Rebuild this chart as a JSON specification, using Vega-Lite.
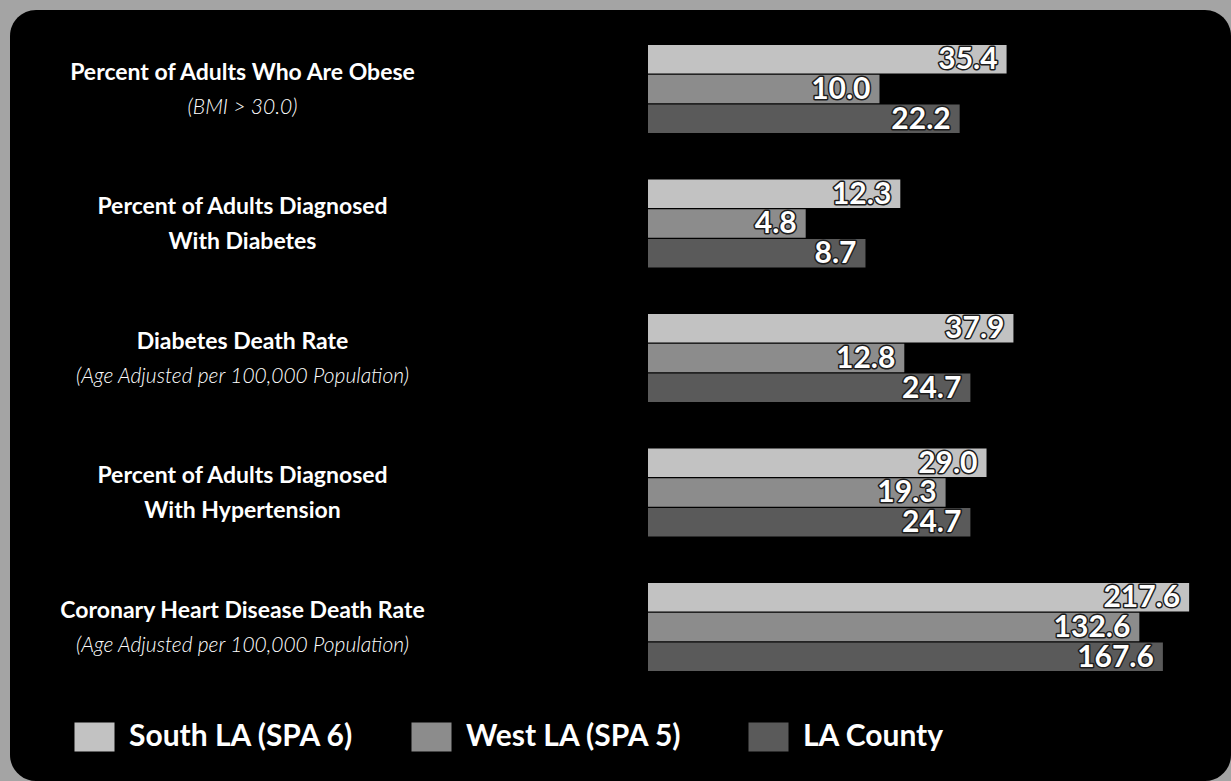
{
  "$schema": "https://vega.github.io/schema/vega-lite/v6.json",
  "width": 1231,
  "height": 781,
  "autosize": {"type": "fit", "contains": "padding"},
  "padding": {"left": 10, "top": 10, "right": 0, "bottom": 0},
  "background": "#a4a4a4",
  "config": {
    "view": {"fill": "#000000", "stroke": null, "cornerRadius": 26},
    "font": "Lato"
  },
  "data": {
    "values": [
      {"measure": "Percent of Adults Who Are Obese|(BMI > 30.0)", "area": "South LA (SPA 6)", "value": 35.4},
      {"measure": "Percent of Adults Who Are Obese|(BMI > 30.0)", "area": "West LA (SPA 5)", "value": 10.0},
      {"measure": "Percent of Adults Who Are Obese|(BMI > 30.0)", "area": "LA County", "value": 22.2},
      {"measure": "Percent of Adults Diagnosed|With Diabetes", "area": "South LA (SPA 6)", "value": 12.3},
      {"measure": "Percent of Adults Diagnosed|With Diabetes", "area": "West LA (SPA 5)", "value": 4.8},
      {"measure": "Percent of Adults Diagnosed|With Diabetes", "area": "LA County", "value": 8.7},
      {"measure": "Diabetes Death Rate|(Age Adjusted per 100,000 Population)", "area": "South LA (SPA 6)", "value": 37.9},
      {"measure": "Diabetes Death Rate|(Age Adjusted per 100,000 Population)", "area": "West LA (SPA 5)", "value": 12.8},
      {"measure": "Diabetes Death Rate|(Age Adjusted per 100,000 Population)", "area": "LA County", "value": 24.7},
      {"measure": "Percent of Adults Diagnosed|With Hypertension", "area": "South LA (SPA 6)", "value": 29.0},
      {"measure": "Percent of Adults Diagnosed|With Hypertension", "area": "West LA (SPA 5)", "value": 19.3},
      {"measure": "Percent of Adults Diagnosed|With Hypertension", "area": "LA County", "value": 24.7},
      {"measure": "Coronary Heart Disease Death Rate|(Age Adjusted per 100,000 Population)", "area": "South LA (SPA 6)", "value": 217.6},
      {"measure": "Coronary Heart Disease Death Rate|(Age Adjusted per 100,000 Population)", "area": "West LA (SPA 5)", "value": 132.6},
      {"measure": "Coronary Heart Disease Death Rate|(Age Adjusted per 100,000 Population)", "area": "LA County", "value": 167.6}
    ]
  },
  "resolve": {"axis": {"y": "independent"}},
  "layer": [
    {
      "mark": {"type": "bar"},
      "encoding": {
        "y": {
          "field": "measure", "type": "nominal", "sort": null,
          "scale": {"paddingInner": 0.346, "paddingOuter": 0.539, "align": 0.241},
          "axis": {
            "orient": "left", "offset": -638, "domain": false, "ticks": false, "tickSize": 0, "grid": false, "title": null,
            "labelPadding": 406, "labelAlign": "center", "labelBaseline": "middle", "labelOffset": -16,
            "labelFont": "Lato", "labelFontSize": 23, "labelFontWeight": "bold", "labelColor": "#ffffff",
            "labelLineHeight": 35, "labelLimit": 700, "labelOverlap": false, "labelBound": false, "labelFlush": false,
            "labelExpr": "indexof(split(datum.value,'|')[1],'(') == 0 ? [split(datum.value,'|')[0], ''] : split(datum.value,'|')"
          }
        },
        "yOffset": {"field": "area", "type": "nominal", "sort": null, "scale": {"paddingInner": 0.04, "paddingOuter": 0}},
        "x": {
          "field": "value", "type": "quantitative",
          "scale": {"type": "log", "domain": [1, 330], "nice": false, "range": [638, 1221]},
          "axis": null
        },
        "x2": {"datum": 1},
        "color": {
          "field": "area", "type": "nominal", "sort": null,
          "scale": {"domain": ["South LA (SPA 6)", "West LA (SPA 5)", "LA County"], "range": ["#c2c2c2", "#8c8c8c", "#5a5a5a"]},
          "legend": {
            "orient": "none", "legendX": 69.5, "legendY": 712, "direction": "horizontal", "columns": 3, "gridAlign": "all",
            "title": null, "symbolType": "M-1.38,-1L1.38,-1L1.38,1L-1.38,1Z", "symbolSize": 841,
            "symbolStrokeWidth": 0, "symbolOpacity": 1,
            "labelFont": "Lato", "labelFontSize": 30, "labelFontWeight": "bold", "labelColor": "#ffffff",
            "labelOffset": 19.5, "columnPadding": 56, "labelLimit": 400, "padding": 0
          }
        }
      }
    },
    {
      "mark": {"type": "text", "align": "right", "baseline": "middle", "dx": -9, "dy": 1, "fontSize": 30, "fontWeight": "bold", "font": "Lato", "fill": "#1c1c1c", "stroke": "#1c1c1c", "strokeWidth": 3, "strokeJoin": "round"},
      "encoding": {
        "y": {
          "field": "measure", "type": "nominal", "sort": null,
          "axis": {
            "orient": "left", "offset": -638, "domain": false, "ticks": false, "tickSize": 0, "grid": false, "title": null,
            "labelPadding": 406, "labelAlign": "center", "labelBaseline": "middle", "labelOffset": -16,
            "labelFont": "Lato", "labelFontSize": 21, "labelFontWeight": 300, "labelFontStyle": "italic", "labelColor": "#ffffff",
            "labelLineHeight": 35, "labelLimit": 700, "labelOverlap": false, "labelBound": false, "labelFlush": false,
            "labelExpr": "indexof(split(datum.value,'|')[1],'(') == 0 ? ['', split(datum.value,'|')[1]] : ''"
          }
        },
        "yOffset": {"field": "area", "type": "nominal", "sort": null},
        "x": {"field": "value", "type": "quantitative"},
        "text": {"field": "value", "type": "quantitative", "format": ".1f"}
      }
    },
    {
      "mark": {"type": "text", "align": "right", "baseline": "middle", "dx": -9, "dy": 1, "fontSize": 30, "fontWeight": "bold", "font": "Lato", "fill": "#ffffff"},
      "encoding": {
        "y": {"field": "measure", "type": "nominal", "sort": null, "axis": null},
        "yOffset": {"field": "area", "type": "nominal", "sort": null},
        "x": {"field": "value", "type": "quantitative"},
        "text": {"field": "value", "type": "quantitative", "format": ".1f"}
      }
    }
  ]
}
